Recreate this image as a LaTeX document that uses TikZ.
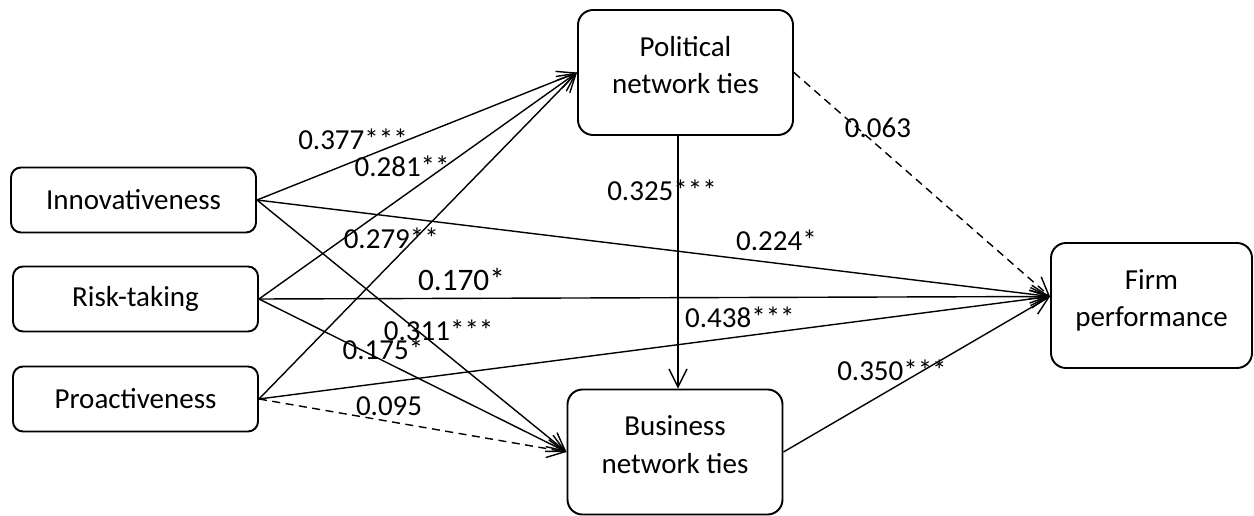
\documentclass[tikz,border=0pt]{standalone}
\usepackage{fontspec}
\setmainfont{Carlito}
\usetikzlibrary{arrows.meta,positioning}

\begin{document}
\begin{tikzpicture}[
    x=0.2mm,y=-0.2mm,
    >={Straight Barb[length=3.6mm,width=3.6mm]},
    font=\fontsize{16.5}{21.5}\selectfont,
    box/.style={
        draw,
        line width=1.1pt,
        rounded corners=2mm,
        minimum width=49mm,
        minimum height=13mm,
        align=center
    },
    bigbox/.style={
        box,
        rounded corners=3mm,
        minimum width=43mm,
        minimum height=25mm,
        text depth=3mm
    },
    link/.style={->, line width=0.8pt},
    weak/.style={link, dash pattern=on 1.6mm off 1.1mm},
    coef/.style={inner sep=0pt}
]
\useasboundingbox (0,0) rectangle (1254,516);

\node[box] (inno) at (133.5,200) {Innovativeness};
\node[box] (risk) at (135.5,299) {Risk-taking};
\node[box] (proa) at (135.5,399) {Proactiveness};

\node[bigbox] (pol)  at (685.5,72.5) {Political\\network ties};
\node[bigbox] (bus)  at (675,452)    {Business\\network ties};
\node[bigbox, minimum width=40.2mm] (firm) at (1151.5,305.5) {Firm\\performance};

\coordinate (fin)  at ([yshift=1.8mm]firm.west);
\coordinate (drop) at ([xshift=-1.5mm]pol.south);

% to political ties
\draw[link] (inno.east) -- (pol.west)
    node[coef, pos=0.3, shift={(0,-22)}] {0.377***};
\draw[link] (risk.east) -- (pol.west)
    node[coef, pos=0.45, shift={(0,-31)}] {0.281**};
\draw[link] (proa.east) -- (pol.west)
    node[coef, pos=0.416, shift={(0,-25)}] {0.279**};

% to business ties
\draw[link] (inno.east) -- (bus.west)
    node[coef, pos=0.587, shift={(0,-18)}] {0.311***};
\draw[link] (risk.east) -- (bus.west)
    node[coef, pos=0.403, shift={(0,-11)}] {0.175*};
\draw[weak] (proa.east) -- (bus.west)
    node[coef, pos=0.423, shift={(0,-15)}] {0.095};

% to firm performance
\draw[link] (inno.east) -- (fin)
    node[coef, pos=0.655, shift={(0,-23)}] {0.224*};
\draw[link] (risk.east) -- (fin)
    node[coef, pos=0.256, shift={(0,-19)}, font=\fontsize{17.8}{21}\selectfont] {0.170*};
\draw[link] (proa.east) -- (fin)
    node[coef, pos=0.608, shift={(0,-19)}] {0.438***};

% mediators
\draw[link] (drop) -- (drop |- bus.north)
    node[coef, pos=0.215, shift={(-16,0)}] {0.325***};
\draw[weak] (pol.east) -- (fin)
    node[coef, pos=0.328, shift={(0,-18)}] {0.063};
\draw[link] (bus.east) -- (fin)
    node[coef, pos=0.407, shift={(0,-18)}] {0.350***};

\end{tikzpicture}
\end{document}
